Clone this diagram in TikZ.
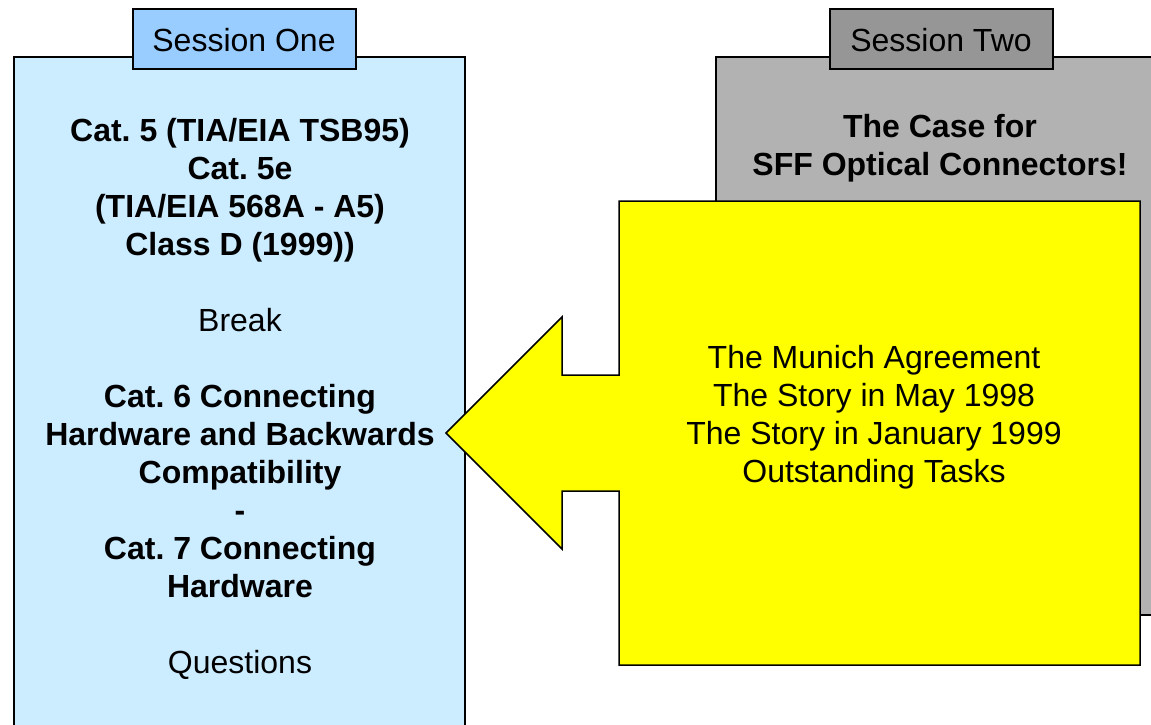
\documentclass[tikz,border=0pt]{standalone}
\usepackage{fontspec}
\setmainfont{Liberation Sans}
\frenchspacing
\definecolor{tabone}{HTML}{99CCFF}
\definecolor{boxone}{HTML}{CCECFF}
\definecolor{tabtwo}{HTML}{969696}
\definecolor{boxtwo}{HTML}{B2B2B2}
\definecolor{callout}{HTML}{FFFF00}
\tikzset{x=1pt, y=-1pt,
 panel/.style={draw=black, line width=1.5pt},
 label/.style={align=center, inner sep=0pt, font=\fontsize{32}{38}\selectfont}}

\begin{document}
\begin{tikzpicture}
\useasboundingbox (0,0) rectangle (1151,725);
\clip (0,0) rectangle (1151,725);
\fill[white] (0,0) rectangle (1151,725);
% session one
\draw[panel, fill=boxone] (14,57) rectangle (465,740);
\draw[panel, fill=tabone] (133,9) rectangle (356,69);
\node[label] (one) at (244,40) {Session One};
\node[label] (onetext) at (240,399) {\textbf{Cat. 5 (TIA/EIA TSB95)}\\
\textbf{Cat. 5e}\\ \textbf{(TIA/EIA 568A - A5)}\\ \textbf{Class D (1999))}\\[38pt]
Break\\[38pt]
\textbf{Cat. 6 Connecting}\\ \textbf{Hardware and Backwards}\\ \textbf{Compatibility}\\
\textbf{-}\\ \textbf{Cat. 7 Connecting}\\ \textbf{Hardware}\\[38pt]
Questions};
% session two
\draw[panel, fill=boxtwo] (716,57) rectangle (1165,615);
\draw[panel, fill=tabtwo] (830,9) rectangle (1053,69);
\node[label] (two) at (941,40) {Session Two};
\node[label] (twotext) at (940,148) {\textbf{The Case for}\\ \textbf{SFF Optical Connectors!}};
% callout, edit here for the arrow
\draw[panel, fill=callout] (619,201) -- (1140,201) -- (1140,665) -- (619,665)
 -- (619,491) -- (562,491) -- (562,549) -- (446,433) -- (562,317) -- (562,375)
 -- (619,375) -- cycle;
\node[label] (topics) at (874,417) {The Munich Agreement\\ The Story in May 1998\\
The Story in January 1999\\ Outstanding Tasks};
\end{tikzpicture}
\end{document}
